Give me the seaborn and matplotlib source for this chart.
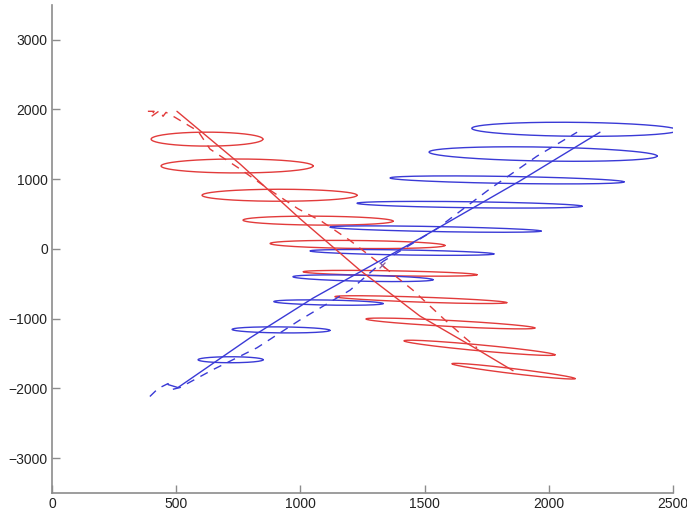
import numpy as np
import pandas as pd
import matplotlib
matplotlib.use("Agg")
import matplotlib.pyplot as plt
import seaborn as sns

sns.set_theme(style="ticks")
plt.rcParams['font.family'] = ['Liberation Sans', 'DejaVu Sans']

# ---- data ----
# Red target: true track (solid) and estimate (dashed)
red_true_x = [503, 757, 998, 1240, 1481, 1695, 1856]
red_true_y = [1974, 1218, 435, -306, -962, -1404, -1746]
red_est_x = [386, 411, 395, 435, 447, 459, 495, 588, 636, 757, 870, 990, 1087, 1200, 1329, 1453, 1582, 1663, 1711]
red_est_y = [1974, 1974, 1888, 1988, 1902, 1959, 1888, 1689, 1432, 1147, 862, 577, 392, 121, -235, -591, -1019, -1275, -1418]

# Blue target
blue_true_x = [467, 507, 797, 1051, 1481, 1884, 2206]
blue_true_y = [-1945, -1988, -1276, -705, 150, 976, 1674]
blue_est_x = [394, 427, 467, 483, 515, 648, 825, 998, 1200, 1333, 1550, 1763, 1953, 2114]
blue_est_y = [-2116, -2002, -1931, -2016, -1988, -1731, -1418, -1019, -591, -178, 292, 862, 1332, 1674]

# Covariance ellipses: centre, half-width, half-height, shear (dy/dx)
red_cx = [624, 745, 916, 1071, 1230, 1361, 1485, 1604, 1721, 1858]
red_cy = [1575, 1190, 770, 406, 64, -349, -727, -1069, -1418, -1753]
red_rx = [225, 306, 312, 302, 352, 350, 346, 340, 304, 248]
red_ry = [100, 100, 86, 64, 57, 36, 36, 43, 43, 36]
red_k = [0, 0, 0, -0.024, -0.04, -0.061, -0.124, -0.19, -0.33, -0.43]

blue_cx = [2105, 1977, 1832, 1681, 1544, 1409, 1252, 1113, 922, 719]
blue_cy = [1716, 1361, 990, 634, 285, -50, -420, -769, -1161, -1589]
blue_rx = [415, 459, 471, 453, 425, 370, 282, 220, 197, 131]
blue_ry = [100, 100, 50, 43, 36, 36, 43, 36, 43, 43]
blue_k = [-0.034, -0.062, -0.06, -0.047, -0.067, -0.058, -0.076, -0.065, -0.036, 0]

marker_x = [1329]
marker_y = [-235]

x_ticks = [0, 500, 1000, 1500, 2000, 2500]
y_ticks = [-3000, -2000, -1000, 0, 1000, 2000, 3000]

RED = '#e23b3b'
BLUE = '#3a3ad6'
LW = 1.0

fig = plt.figure(figsize=(6.87, 5.16), dpi=100)
ax = fig.add_axes([0.0757, 0.0446, 0.9039, 0.9459])

t = np.linspace(0, 2 * np.pi, 160)

def draw_ellipses(cx, cy, rx, ry, k, color):
    for i in range(len(cx)):
        ex = cx[i] + rx[i] * np.cos(t)
        ey = cy[i] + ry[i] * np.sin(t) + k[i] * rx[i] * np.cos(t)
        df = pd.DataFrame({'x': ex, 'y': ey})
        sns.lineplot(data=df, x='x', y='y', sort=False, estimator=None,
                     color=color, lw=LW, ax=ax)

draw_ellipses(red_cx, red_cy, red_rx, red_ry, red_k, RED)
draw_ellipses(blue_cx, blue_cy, blue_rx, blue_ry, blue_k, BLUE)

sns.lineplot(x=red_true_x, y=red_true_y, sort=False, estimator=None, color=RED, lw=LW, ax=ax)
sns.lineplot(x=red_est_x, y=red_est_y, sort=False, estimator=None, color=RED, lw=LW,
             linestyle=(0, (6, 5)), ax=ax)
sns.lineplot(x=blue_true_x, y=blue_true_y, sort=False, estimator=None, color=BLUE, lw=LW, ax=ax)
sns.lineplot(x=blue_est_x, y=blue_est_y, sort=False, estimator=None, color=BLUE, lw=LW,
             linestyle=(0, (6, 5)), ax=ax)

sns.scatterplot(x=marker_x, y=marker_y, marker='x', color='#8a5a9a', s=18, linewidth=0.9, ax=ax)

ax.set_xlim(0, 2500)
ax.set_ylim(-3500, 3500)
ax.set_xticks(x_ticks)
ax.set_yticks(y_ticks)
ax.set_xlabel('')
ax.set_ylabel('')
for side in ['top', 'right']:
    ax.spines[side].set_visible(False)
for side in ['left', 'bottom']:
    ax.spines[side].set_color('#8c8c8c')
    ax.spines[side].set_linewidth(1.2)
ax.tick_params(direction='in', length=6, width=1.0, color='#8c8c8c',
               labelsize=10, labelcolor='#222222', pad=3)

fig.savefig('out.png', dpi=100)
